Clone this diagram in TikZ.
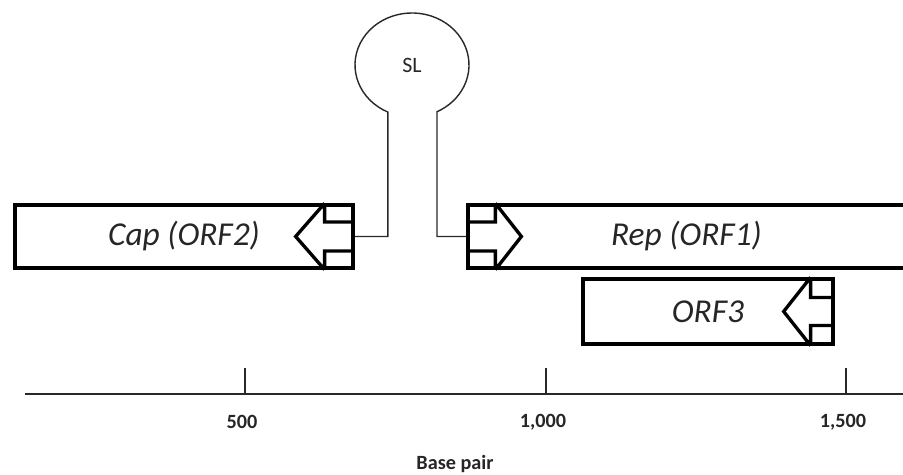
\documentclass[tikz,border=0pt]{standalone}
\usepackage{fontspec}
\setmainfont{Carlito}
\usepackage{tikz}
\usetikzlibrary{positioning, calc}
\definecolor{lineblack}{RGB}{40,40,40}
\definecolor{textgray}{RGB}{38,38,38}

\begin{document}
\begin{tikzpicture}[
    x=0.02cm, y=0.02cm,
    gene/.style={draw=black, line width=1.9pt, minimum height=1.26cm, inner sep=0pt,
        font=\fontsize{19}{22}\selectfont\itshape, text=textgray},
    blk/.style={draw=black, line width=1.9pt, line join=miter},
    stem/.style={draw=lineblack, line width=0.8pt},
    axisline/.style={draw=lineblack, line width=1.1pt},
    tickmark/.style={draw=lineblack, line width=0.8pt},
    num/.style={font=\fontsize{11.5}{13}\selectfont\bfseries, text=textgray}
]
\useasboundingbox (0,0) rectangle (903,475);

% Genes
\node[gene, minimum width=6.76cm] (cap) at (184,238.5) {Cap (ORF2)};
\node[gene, minimum width=8.74cm] (rep) at (686.5,238.5) {Rep (ORF1)};
\node[gene, minimum width=5cm, minimum height=1.3cm] (orf3) at (708,163.5) {ORF3};

% Direction arrows
\draw[blk] ($(cap.east)+(0,14.5)$) -- ++(-30,0) -- ($(cap.north east)+(-30,0)$)
    ($(cap.north east)+(-30,0)$) -- ($(cap.east)+(-59,0)$) -- ($(cap.south east)+(-30,0)$)
    ($(cap.south east)+(-30,0)$) -- ($(cap.east)+(-30,-14.5)$) -- ++(30,0);
\draw[blk] ($(rep.west)+(0,14.5)$) -- ++(29,0) -- ($(rep.north west)+(29,0)$)
    ($(rep.north west)+(29,0)$) -- ($(rep.west)+(55,0)$) -- ($(rep.south west)+(29,0)$)
    ($(rep.south west)+(29,0)$) -- ($(rep.west)+(29,-14.5)$) -- ++(-29,0);
\draw[blk] ($(orf3.east)+(0,14)$) -- ++(-24,0) -- ($(orf3.north east)+(-24,0)$)
    ($(orf3.north east)+(-24,0)$) -- ($(orf3.east)+(-51,0)$) -- ($(orf3.south east)+(-24,0)$)
    ($(orf3.south east)+(-24,0)$) -- ($(orf3.east)+(-24,-14)$) -- ++(24,0);

% Stem-loop
\node[font=\fontsize{12.5}{14}\selectfont, text=textgray] (sl) at (412,410) {SL};
\draw[stem] (cap.east) -| ($(sl)+(245:57 and 52)$)
    arc[start angle=245, end angle=-64, x radius=57, y radius=52] |- (rep.west);

% Scale
\coordinate (ax0) at (25,81);
\coordinate (ax1) at (905,81);
\draw[axisline] (ax0) -- (ax1);
\foreach \x/\lab [count=\i] in {245/500, {546/1,000}, {846/1,500}} {
    \coordinate (tk\i) at (\x,81);
    \draw[tickmark] (tk\i) -- ++(0,26);
    \node[num] (num\i) at ($(tk\i)+(-3,-28)$) {\lab};
}
\node[num] (bp) at (455,11) {Base pair};

\end{tikzpicture}
\end{document}
